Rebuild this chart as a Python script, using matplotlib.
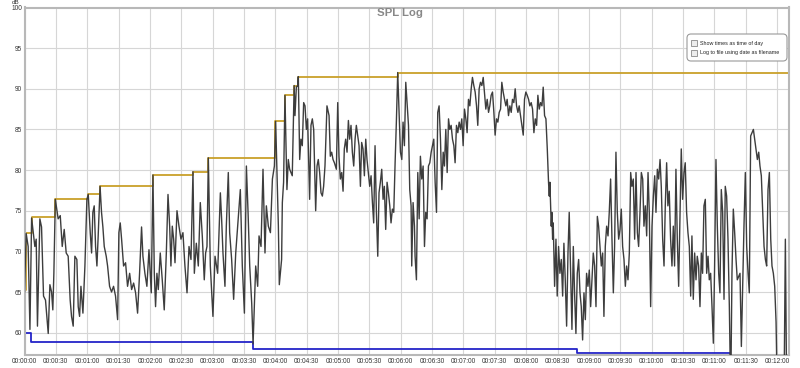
import numpy as np
import matplotlib
matplotlib.use("Agg")
import matplotlib.pyplot as plt
from matplotlib.patches import FancyBboxPatch, Rectangle

plt.rcParams['font.family'] = ['Liberation Sans', 'DejaVu Sans']

# length of the log in seconds
t_end = 731

# SPL trace: time (s) and level (dB)
spl_t = [
    0.0, 1.6, 3.5, 5.2, 6.8, 9.9, 11.2, 12.4, 14.7, 16.3, 18.2, 20.1, 22.7, 24.3, 25.9, 27.1, 28.1, 29.5, 32.2, 34.2,
    36.1, 38.0, 39.9, 41.8, 43.7, 45.0, 46.6, 48.2, 50.1, 51.4, 52.7, 54.0, 55.9, 57.8, 59.7, 61.0, 62.9, 64.2, 65.4, 66.7,
    68.0, 69.3, 70.5, 72.3, 73.7, 75.0, 76.3, 78.2, 79.5, 81.4, 83.3, 85.2, 87.1, 89.1, 90.3, 91.6, 92.9, 94.8, 96.7, 98.6,
    100.6, 102.5, 104.4, 106.3, 108.2, 110.1, 112.0, 113.3, 115.2, 117.1, 119.1,
    121.3, 122.9, 124.2, 125.4, 126.7, 128.0, 129.9, 131.8, 133.7, 135.7,
    137.3, 138.9, 140.1, 141.4, 142.7, 144.0, 145.9, 147.8, 149.7, 151.6,
    153.5, 155.5, 157.4, 159.3, 161.2, 162.5, 164.4, 166.3, 168.2, 170.1,
    172.0, 173.3, 174.6, 175.9, 177.8, 180.3, 182.3, 184.8, 187.4, 188.6,
    189.9, 191.8, 193.1, 195.0, 196.3, 198.2, 200.1, 202.1, 204.0, 206.5,
    208.4, 210.4, 212.3, 213.9, 215.5, 217.4, 218.7, 219.9, 221.2, 223.1,
    224.4, 226.3, 228.2, 230.1, 231.4, 233.3, 235.3, 237.2, 239.1, 240.3,
    242.9,
    243.8, 246.0, 246.7, 247.9, 249.2, 251.1, 252.4, 253.7, 255.0, 256.2,
    258.0, 258.8, 260.1, 261.4, 262.0, 263.3, 264.5, 265.8, 267.1, 268.4,
    269.7, 270.9, 272.8, 274.1, 275.4, 276.7, 278.6, 279.9, 281.1, 282.4,
    283.7, 285.0, 286.2, 287.5, 289.4, 291.4, 292.6, 293.9, 295.2, 296.5,
    298.4, 299.7, 300.9, 302.2, 303.5, 304.8, 306.0, 307.3, 308.6, 309.9,
    311.1, 312.4, 313.7, 315.0, 316.3, 317.5, 318.8, 320.1, 321.4, 322.6,
    323.9, 325.2, 326.5, 327.7, 329.0, 330.3, 331.6, 332.9, 334.1, 335.4,
    336.7, 338.0, 339.2, 340.5, 341.8, 343.1, 344.3, 345.6, 346.9, 348.2,
    349.5, 350.7, 352.0, 353.3, 354.6, 355.8, 357.1, 358.4, 359.7, 361.0,
    362.2, 363.5, 364.8,
    367.4, 368.6, 369.9, 370.5, 371.8, 373.1, 373.7, 375.0, 376.3, 377.6,
    378.8, 380.1, 381.4, 382.7, 383.9, 385.2, 386.5, 387.8, 389.1, 390.3,
    391.6, 392.9, 394.2, 395.4, 396.7, 398.0, 399.3, 400.6, 401.8, 403.1,
    404.4, 405.7, 406.9, 408.2, 409.5, 410.8, 412.0, 413.3, 414.6, 415.9,
    417.2, 418.4, 419.7, 421.0, 422.3, 423.5, 424.8, 426.1, 427.4, 428.6,
    429.9, 431.2, 432.5, 433.7, 435.0, 436.3, 437.6, 438.9, 440.1, 441.4,
    442.7, 444.0, 445.2, 446.5, 447.8, 449.1, 450.3, 451.6, 452.9, 454.2,
    455.5, 456.7, 458.0, 459.3, 460.6, 461.8, 463.1, 464.4, 465.7, 466.9,
    468.2, 469.5, 470.8, 472.1, 473.3, 474.6, 475.9, 477.2, 478.4, 479.7,
    481.0, 482.3, 483.5, 484.8, 486.1,
    487.4, 488.7, 490.0, 491.2, 492.5, 493.8, 495.1, 496.3, 497.6, 498.9,
    500.2, 501.4, 502.1, 502.7, 503.4, 504.0, 504.6, 505.3, 505.9, 507.2,
    508.5, 509.7, 511.0, 512.3, 513.6, 514.9, 516.1, 517.4, 518.7, 520.0,
    521.2, 522.5, 523.8, 525.1, 526.3, 527.6, 528.9, 530.2, 531.5, 532.7,
    534.0, 535.3, 536.6, 537.8, 539.1, 540.4, 541.7, 543.0, 544.2, 545.5,
    546.8, 548.1, 549.3, 550.6, 551.9, 553.2, 554.4, 555.7, 557.0, 558.3,
    559.5, 560.8, 562.1, 563.4, 564.6, 565.9, 567.2, 568.5, 569.8, 571.0,
    572.3, 573.6, 574.9, 576.1, 577.4, 578.7, 580.0, 581.2, 582.5, 583.8,
    585.1, 586.4, 587.6, 588.9, 590.2, 591.5, 592.7, 594.0, 595.3, 596.6,
    597.8, 599.1, 600.4, 601.7, 603.0, 604.2, 605.5, 606.8, 608.1, 609.3,
    610.6, 611.9,
    613.1, 614.4, 615.6, 616.9, 618.2, 619.5, 620.8, 622.0, 623.3, 624.6,
    625.9, 627.1, 628.4, 629.7, 631.0, 632.2, 633.5, 634.8, 636.1, 637.4,
    638.6, 639.9, 641.2, 642.5, 643.7, 645.0, 646.3, 647.6, 648.8, 650.1,
    651.4, 652.7, 654.0, 655.2, 656.5, 657.8, 659.1, 660.3, 661.6, 662.9,
    664.2, 665.4, 666.7, 668.0, 669.3, 670.5, 671.8, 673.1, 674.4, 675.7,
    676.9, 678.2, 679.5, 680.8, 682.0, 683.3, 684.6, 685.9, 687.1, 688.4,
    689.7, 691.0, 692.3, 693.5, 694.8, 696.1, 697.4, 698.6, 699.9, 701.2,
    702.5, 703.7, 705.0, 706.3, 707.6, 708.9, 710.1, 711.4, 712.7, 714.0,
    715.2, 716.5, 717.8, 719.1, 720.3, 726.7, 728.0, 729.3,
]
spl_db = [
    65.0, 72.2, 70.6, 60.4, 74.1, 70.6, 71.5, 60.8, 74.0, 73.0, 64.5, 64.0, 59.9, 65.9, 65.0, 62.8, 67.3, 76.4, 74.0, 74.4,
    70.6, 72.7, 69.8, 69.4, 64.0, 62.0, 60.8, 69.4, 69.0, 63.2, 62.0, 65.7, 62.4, 68.2, 76.4, 77.0, 72.3, 69.8, 74.8, 75.6,
    70.6, 68.2, 71.9, 78.0, 74.8, 73.0, 70.6, 69.4, 68.2, 65.7, 65.0, 65.7, 64.5, 61.6, 72.3, 73.5, 71.5, 68.2, 68.6, 65.7,
    67.3, 65.3, 66.1, 64.9, 62.4, 67.3, 73.0, 69.4, 67.3, 65.7, 70.2,
    64.9, 79.4, 67.3, 63.2, 67.3, 65.3, 69.8, 66.5, 62.8, 69.8,
    77.0, 73.1, 68.2, 73.1, 71.5, 68.6, 75.0, 73.1, 71.5, 72.3,
    68.2, 64.9, 70.6, 69.0, 79.8, 67.3, 71.0, 68.2, 76.0, 71.9,
    66.5, 69.8, 70.6, 81.5, 68.2, 62.0, 69.4, 67.3, 77.2, 74.0,
    69.8, 65.7, 73.1, 79.7, 72.3, 69.0, 64.1, 69.8, 73.1, 77.6,
    68.2, 62.4, 80.5, 74.8, 68.2, 63.6, 58.6, 63.2, 68.2, 65.7,
    71.9, 70.6, 80.1, 69.8, 75.6, 73.1, 72.3, 78.9, 80.5, 86.0,
    73.1,
    65.9, 69.0, 76.0, 78.5, 89.2, 77.6, 81.3, 80.1, 79.7, 79.3,
    90.4, 86.7, 90.2, 90.4, 91.5, 81.3, 83.8, 83.0, 88.3, 87.9,
    85.0, 86.3, 76.4, 85.5, 86.3, 85.0, 75.0, 80.5, 81.3, 79.7,
    77.2, 76.8, 78.0, 80.5, 87.9, 86.7, 81.7, 82.2, 81.3, 80.9,
    80.1, 88.3, 81.7, 78.9, 79.7, 77.4, 82.6, 83.8, 82.2, 86.1,
    83.8, 85.5, 82.2, 80.5, 83.8, 85.5, 84.2, 83.0, 78.0, 83.4,
    82.6, 79.3, 83.8, 81.3, 79.7, 78.0, 79.3, 76.0, 73.5, 83.0,
    74.8, 69.4, 77.2, 78.5, 80.1, 76.4, 78.0, 72.7, 78.5, 77.2,
    75.6, 73.5, 75.2, 74.8, 80.9, 85.9, 92.0, 87.1, 82.2, 81.3,
    85.9, 83.0, 90.8,
    85.5, 77.6, 75.6, 68.2, 76.0, 73.1, 69.4, 66.5, 79.7, 74.0,
    81.7, 78.9, 80.5, 70.6, 74.8, 74.0, 80.5, 80.9, 82.2, 83.0,
    83.8, 78.5, 74.8, 87.1, 87.9, 83.8, 77.6, 82.2, 80.5, 85.0,
    79.7, 86.3, 85.0, 85.5, 83.8, 83.0, 80.9, 85.5, 84.6, 85.9,
    85.0, 86.3, 83.0, 87.5, 86.3, 84.6, 88.7, 87.9, 90.0, 91.4,
    90.4, 89.6, 87.9, 85.5, 90.0, 90.8, 90.4, 91.4, 89.6, 87.5,
    88.7, 87.1, 87.9, 89.2, 89.6, 87.1, 84.3, 86.3, 85.9, 87.1,
    87.5, 90.8, 89.6, 88.7, 87.9, 88.7, 86.7, 87.9, 87.1, 88.7,
    88.3, 90.0, 87.9, 87.1, 87.9, 86.7, 85.5, 84.3, 88.7, 89.6,
    89.2, 88.7, 87.9, 88.3, 87.5,
    84.6, 86.3, 85.5, 89.2, 87.5, 88.3, 87.9, 90.2, 86.7, 86.3,
    82.6, 78.5, 76.8, 78.5, 75.6, 73.1, 74.8, 71.5, 73.5, 65.7,
    71.5, 64.5, 70.6, 67.3, 69.0, 64.5, 71.0, 66.5, 60.8, 69.8,
    74.8, 67.3, 60.4, 70.6, 64.9, 59.9, 67.3, 69.0, 64.9, 63.2,
    59.1, 64.9, 61.6, 67.3, 65.7, 67.7, 63.2, 66.5, 69.8, 68.2,
    63.2, 74.3, 73.1, 70.6, 68.2, 69.8, 62.0, 70.6, 73.1, 71.9,
    74.8, 78.9, 71.5, 64.9, 70.6, 82.2, 74.8, 71.5, 72.7, 75.2,
    70.6, 69.0, 65.7, 68.2, 66.5, 69.8, 79.7, 78.0, 78.9, 71.5,
    79.7, 72.3, 70.6, 74.8, 79.7, 78.9, 73.1, 75.6, 71.9, 79.7,
    74.8, 63.2, 73.1, 76.8, 79.3, 74.8, 80.1, 78.9, 81.3, 77.9,
    71.5, 68.2,
    75.6, 80.9, 75.6, 77.4, 71.5, 68.2, 73.1, 68.2, 80.1, 71.5,
    65.7, 73.9, 82.6, 76.4, 79.7, 80.9, 74.8, 72.3, 70.6, 64.5,
    71.9, 64.1, 69.8, 66.5, 69.4, 68.2, 63.2, 69.8, 67.3, 75.6,
    76.4, 67.3, 69.4, 66.5, 67.3, 63.2, 58.7, 68.2, 81.3, 73.1,
    67.3, 64.9, 77.6, 74.8, 64.1, 78.0, 76.8, 71.5, 63.2, 52.0,
    67.3, 75.2, 72.3, 69.0, 66.5, 66.9, 67.3, 58.3, 65.3, 73.1,
    79.7, 70.6, 67.3, 64.9, 84.2, 84.6, 85.0, 83.8, 82.6, 81.3,
    82.2, 80.5, 79.3, 74.8, 70.6, 69.0, 68.2, 77.6, 79.7, 71.5,
    68.2, 67.3, 65.7, 61.3, 52.0, 52.0, 71.5, 52.0,
]

# peak hold (max) and minimum hold steps
max_t = [0, 1.6, 6.7, 29, 60.3, 72.1, 122.8, 161.1, 175.9, 240, 249.2, 258.2, 262, 357]
max_db = [65.3, 72.2, 74.2, 76.4, 77.0, 78.0, 79.4, 79.8, 81.5, 86.0, 89.2, 90.4, 91.5, 92.0]
min_t = [0, 0.5, 6.4, 218.6, 528.8, 675.3]
min_db = [63.5, 60.0, 58.9, 58.0, 57.5, 52.0]

tick_secs = list(range(0, 721, 30))
tick_labels = [f"00:{s // 60:02d}:{s % 60:02d}" for s in tick_secs]
y_ticks = [60, 65, 70, 75, 80, 85, 90, 95, 100]

fig = plt.figure(figsize=(8, 3.68), dpi=100)
ax = fig.add_axes([24.5 / 800, 1 - 355 / 368, 764 / 800, 347.5 / 368])

ax.step(max_t + [t_end], max_db + [max_db[-1]], where='post', color='#c9a02a', lw=1.3, zorder=2)
ax.step(min_t + [t_end], min_db + [min_db[-1]], where='post', color='#2424c8', lw=1.3, zorder=2)
ax.plot(spl_t, spl_db, color='#3d3d3d', lw=1.0, zorder=3)

ax.set_xlim(0, t_end)
ax.set_ylim(57.25, 100)
ax.set_xticks(tick_secs)
ax.set_xticklabels(tick_labels)
ax.set_yticks(y_ticks)
ax.tick_params(length=0, labelsize=4.7, colors='#333333')
ax.tick_params(axis='x', pad=2.2)
ax.tick_params(axis='y', pad=1.8)
ax.grid(True, color='#d6d6d6', lw=0.8)
ax.set_axisbelow(True)
for sp in ax.spines.values():
    sp.set_color('#b8b8b8')
    sp.set_linewidth(1.5)

# overlay in pixel coordinates for title and the option box
ov = fig.add_axes([0, 0, 1, 1], zorder=5)
ov.set_xlim(0, 800)
ov.set_ylim(368, 0)
ov.axis('off')

ov.text(400, 13.5, "SPL Log", ha='center', va='center', fontsize=8.2,
        fontweight='bold', color='#888888')
ov.text(16, 2.5, "dB", ha='center', va='center', fontsize=4.5, color='#333333')

box = FancyBboxPatch((687, 34), 100, 27, boxstyle='round,pad=0,rounding_size=4',
                     fc='white', ec='#9a9a9a', lw=0.8)
ov.add_patch(box)
for y, label in [(40, "Show times as time of day"), (49.5, "Log to file using date as filename")]:
    ov.add_patch(Rectangle((691, y), 6, 6, fc='#eeeeee', ec='#8a8a8a', lw=0.6))
    ov.text(700.5, y + 3.2, label, ha='left', va='center', fontsize=3.9, color='#222222')

fig.savefig("out.png", dpi=100)
